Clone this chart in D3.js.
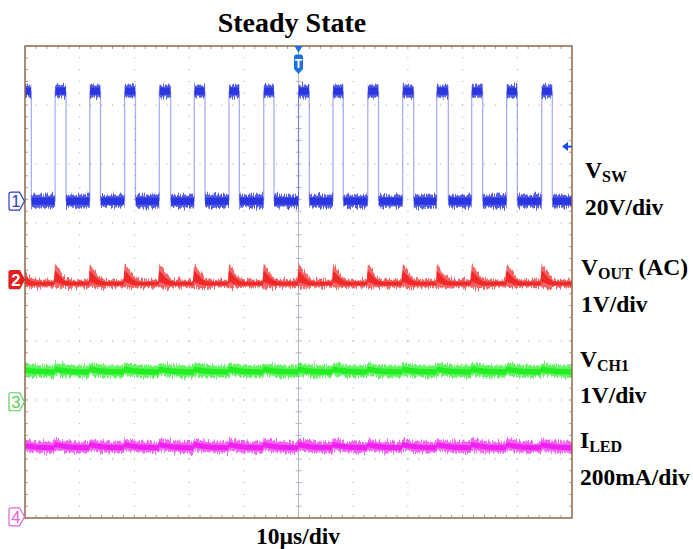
<!DOCTYPE html>
<html><head><meta charset="utf-8">
<script src="https://cdn.jsdelivr.net/npm/d3@7"></script>
<style>body{margin:0;background:#fff} svg{display:block}</style>
</head><body><svg id="c" width="693" height="549"></svg>
<script>
// ================= DATA =================
const timeDomain = [-50, 50];          // µs  (10 µs/div, 10 div)
const divDomain = [-4, 4];             // vertical divisions
const channelNames = ["1", "2", "3", "4"];
const channelOffsets = [1.37, 0.04, -2.03, -3.98];  // ground marker, in divisions
const channelPerDiv = [20, 1, 1, 200];               // V/div, V/div, V/div, mA/div
const channelColors = ["#2a35e0", "#f02828", "#22ee22", "#f020f0"];
const markerColors = ["#2a3ad0", "#e02020", "#55d055", "#e060e0"];

// V_SW switching edges (µs)
const swRise = [-50.86, -44.5, -38.15, -31.79, -25.45, -19.05, -12.7, -6.36, 0, 6.31, 12.67, 19.05, 25.27, 31.66, 38.06, 44.46];
const swFall = [-48.85, -42.5, -36.2, -29.8, -23.36, -17.09, -10.82, -4.48, 1.97, 8.19, 14.63, 21.06, 27.39, 33.67, 40.0, 46.4];
const swLevels = [0, 37.3];            // V low / high
const swBand = 2.2;                    // V half-width of the noisy trace

// ripple shape after every switching edge (dt in µs)
const rippleDt   = [0, 0.3, 0.8, 1.3, 2.0, 3.0, 6.15];
const voutUpper  = [0.27, 0.24, 0.17, 0.095, 0.025, 0.0, 0.0];     // V
const voutLower  = [-0.13, -0.14, -0.145, -0.145, -0.14, -0.135, -0.13];
const vch1Upper  = [0.66, 0.655, 0.645, 0.64, 0.63, 0.62, 0.61];  // V
const vch1Lower  = [0.45, 0.445, 0.44, 0.43, 0.425, 0.415, 0.41];
const iledUpper  = [265, 264, 262, 260, 258, 256, 254];            // mA
const iledLower  = [226, 225, 224, 222, 220, 218, 216];

const titleText = "Steady State";
const timeLabel = "10µs/div";
const sideLabels = [
  {main: "V", sub: "SW", tail: "", scale: "20V/div"},
  {main: "V", sub: "OUT", tail: " (AC)", scale: "1V/div"},
  {main: "V", sub: "CH1", tail: "", scale: "1V/div"},
  {main: "I", sub: "LED", tail: "", scale: "200mA/div"}
];

// ================= LAYOUT =================
const X0 = 25, X1 = 572, Y0 = 46, Y1 = 518;
const svg = d3.select("#c");
const x = d3.scaleLinear().domain(timeDomain).range([X0, X1]);
const yd = d3.scaleLinear().domain(divDomain).range([Y1, Y0]);
const chY = (ch, v) => yd(channelOffsets[ch] + v / channelPerDiv[ch]);
const serif = "'Liberation Serif','Times New Roman',serif";

const defs = svg.append("defs");
defs.append("clipPath").attr("id", "plot").append("rect")
  .attr("x", X0).attr("y", Y0).attr("width", X1 - X0).attr("height", Y1 - Y0);
const f = defs.append("filter").attr("id", "fuzz").attr("filterUnits", "userSpaceOnUse")
  .attr("x", 0).attr("y", 0).attr("width", 693).attr("height", 549);
f.append("feTurbulence").attr("type", "fractalNoise").attr("baseFrequency", "0.9 0.06")
  .attr("numOctaves", 2).attr("seed", 4).attr("result", "n");
f.append("feColorMatrix").attr("in", "n").attr("type", "matrix")
  .attr("values", "0 0 0 0 0.5  0 1.6 0 0 -0.3  0 0 1 0 0  0 0 0 0 1").attr("result", "m");
f.append("feDisplacementMap").attr("in", "SourceGraphic").attr("in2", "m")
  .attr("scale", 6).attr("xChannelSelector", "R").attr("yChannelSelector", "G");

// ================= GRID =================
const grid = svg.append("g");
const hDiv = (X1 - X0) / 10, vDiv = (Y1 - Y0) / 8;
const gridCol = "#a0a0a0";
d3.range(1, 10).filter(k => k !== 5).forEach(k => {
  const gx = X0 + k * hDiv;
  d3.range(1, 40).forEach(j => grid.append("rect").attr("x", gx - 0.5).attr("y", Y0 + j * vDiv / 5 - 0.5)
    .attr("width", 1).attr("height", 1).attr("fill", gridCol));
});
d3.range(1, 8).filter(k => k !== 4).forEach(k => {
  const gy = Y0 + k * vDiv;
  d3.range(1, 50).forEach(j => grid.append("rect").attr("x", X0 + j * hDiv / 5 - 0.5).attr("y", gy - 0.5)
    .attr("width", 1).attr("height", 1).attr("fill", gridCol));
});
const cx = X0 + 5 * hDiv, cy = Y0 + 4 * vDiv;
grid.append("line").attr("x1", cx).attr("x2", cx).attr("y1", Y0).attr("y2", Y1).attr("stroke", "#b4b6c4").attr("stroke-width", 1);
grid.append("line").attr("x1", X0).attr("x2", X1).attr("y1", cy).attr("y2", cy).attr("stroke", "#b4b6c4").attr("stroke-width", 1);
d3.range(1, 40).forEach(j => {
  const ty = Y0 + j * vDiv / 5;
  grid.append("line").attr("x1", cx - 3).attr("x2", cx + 3).attr("y1", ty).attr("y2", ty).attr("stroke", "#b4b6c4");
  grid.append("line").attr("x1", X0).attr("x2", X0 + 3).attr("y1", ty).attr("y2", ty).attr("stroke", gridCol);
  grid.append("line").attr("x1", X1 - 3).attr("x2", X1).attr("y1", ty).attr("y2", ty).attr("stroke", gridCol);
});
d3.range(1, 50).forEach(j => {
  const tx = X0 + j * hDiv / 5;
  grid.append("line").attr("x1", tx).attr("x2", tx).attr("y1", cy - 3).attr("y2", cy + 3).attr("stroke", "#b4b6c4");
  grid.append("line").attr("x1", tx).attr("x2", tx).attr("y1", Y0).attr("y2", Y0 + 3).attr("stroke", gridCol);
  grid.append("line").attr("x1", tx).attr("x2", tx).attr("y1", Y1 - 3).attr("y2", Y1).attr("stroke", gridCol);
});

// ================= TRACES =================
const traces = svg.append("g").attr("clip-path", "url(#plot)");

// --- CH1: V_SW ---
const sw = traces.append("g");
const highSeg = swRise.map((r, i) => [r, swFall[i]]);
const lowSeg = swFall.map((fa, i) => [fa, i + 1 < swRise.length ? swRise[i + 1] : timeDomain[1] + 5]);
function bandRects(g, segs, level, ch, col) {
  g.selectAll(null).data(segs).join("rect")
    .attr("x", d => x(d[0])).attr("width", d => x(d[1]) - x(d[0]))
    .attr("y", chY(ch, level + swBand)).attr("height", chY(ch, level - swBand) - chY(ch, level + swBand))
    .attr("fill", col);
}
const swFuzz = sw.append("g").attr("filter", "url(#fuzz)").attr("opacity", 0.8);
bandRects(swFuzz, highSeg, swLevels[1], 0, channelColors[0]);
bandRects(swFuzz, lowSeg, swLevels[0], 0, channelColors[0]);
const swCore = sw.append("g");
function coreRects(g, segs, level, ch, col, h) {
  g.selectAll(null).data(segs).join("rect")
    .attr("x", d => x(d[0]) + 0.5).attr("width", d => x(d[1]) - x(d[0]) - 1)
    .attr("y", chY(ch, level) - h / 2).attr("height", h).attr("fill", col);
}
coreRects(swCore, highSeg, swLevels[1], 0, channelColors[0], 7);
coreRects(swCore, lowSeg, swLevels[0], 0, channelColors[0], 7);
sw.selectAll(null).data(swRise.concat(swFall)).join("line")
  .attr("x1", d => x(d)).attr("x2", d => x(d))
  .attr("y1", chY(0, swLevels[0])).attr("y2", chY(0, swLevels[1]))
  .attr("stroke", channelColors[0]).attr("stroke-opacity", 0.4).attr("stroke-width", 1.3);

// --- ripple channels ---
function rippleSeries(upper, lower) {
  const pts = [];
  swRise.forEach(r => rippleDt.forEach((dt, i) => pts.push({t: r + dt, u: upper[i], l: lower[i]})));
  return pts;
}
function drawBand(ch, upper, lower) {
  const pts = rippleSeries(upper, lower);
  const g = traces.append("g");
  const area = d3.area().x(d => x(d.t)).y0(d => chY(ch, d.l)).y1(d => chY(ch, d.u)).curve(d3.curveLinear);
  g.append("path").datum(pts).attr("d", area).attr("fill", channelColors[ch])
    .attr("opacity", 0.7).attr("filter", "url(#fuzz)");
  const core = d3.area().x(d => x(d.t))
    .y0(d => chY(ch, d.l + (d.u - d.l) * 0.25)).y1(d => chY(ch, d.u - (d.u - d.l) * 0.3));
  g.append("path").datum(pts).attr("d", core).attr("fill", channelColors[ch]);
}
drawBand(1, voutUpper, voutLower);
drawBand(2, vch1Upper, vch1Lower);
drawBand(3, iledUpper, iledLower);

// ================= BORDER =================
svg.append("rect").attr("x", X0).attr("y", Y0).attr("width", X1 - X0).attr("height", Y1 - Y0)
  .attr("fill", "none").attr("stroke", "#8c6a48").attr("stroke-width", 1.5);

// ================= MARKERS =================
channelNames.forEach((name, ch) => {
  const my = chY(ch, 0), h = 18, xl = 9, xr = 24.5;
  const path = `M${xl + 2},${my - h / 2} L${xr - 5},${my - h / 2} L${xr},${my} L${xr - 5},${my + h / 2} L${xl + 2},${my + h / 2} Q${xl},${my + h / 2} ${xl},${my + h / 2 - 2} L${xl},${my - h / 2 + 2} Q${xl},${my - h / 2} ${xl + 2},${my - h / 2} Z`;
  const filled = ch === 1;
  svg.append("path").attr("d", path).attr("fill", filled ? markerColors[ch] : "#fff")
    .attr("stroke", markerColors[ch]).attr("stroke-width", 1.2);
  svg.append("text").attr("x", xl + 6.8).attr("y", my + 6).attr("text-anchor", "middle")
    .attr("font-family", "'Liberation Sans',Arial,sans-serif").attr("font-size", 16.5)
    .attr("font-weight", filled ? "bold" : "normal")
    .attr("fill", filled ? "#fff" : markerColors[ch]).text(name);
});

// trigger position marker
const tx = x(0);
svg.append("path").attr("d", `M${tx - 4},${Y0} L${tx + 4},${Y0} L${tx},${Y0 + 7} Z`).attr("fill", "#1a72e0");
svg.append("path").attr("d", `M${tx - 4.5},${57} Q${tx - 4.5},${54.5} ${tx - 2},${54.5} L${tx + 2},${54.5} Q${tx + 4.5},${54.5} ${tx + 4.5},${57} L${tx + 4.5},${69} L${tx},${74} L${tx - 4.5},${69} Z`)
  .attr("fill", "#1a72e0");
svg.append("text").attr("x", tx).attr("y", 68).attr("text-anchor", "middle")
  .attr("font-family", "'Liberation Sans',Arial,sans-serif").attr("font-size", 12).attr("font-weight", "bold")
  .attr("fill", "#fff").text("T");
// trigger level arrow
const ty = chY(0, 18.5);
svg.append("path").attr("d", `M${X1 - 10},${ty} L${X1 - 4},${ty - 4.5} L${X1 - 4},${ty + 4.5} Z`).attr("fill", "#1a4ce0");
svg.append("line").attr("x1", X1 - 5).attr("x2", X1).attr("y1", ty).attr("y2", ty).attr("stroke", "#1a4ce0").attr("stroke-width", 2);

// ================= TEXT =================
svg.append("text").attr("x", 292).attr("y", 32).attr("text-anchor", "middle")
  .attr("font-family", serif).attr("font-weight", "bold").attr("font-size", 28).text(titleText);
svg.append("text").attr("x", 298).attr("y", 544).attr("text-anchor", "middle")
  .attr("font-family", serif).attr("font-weight", "bold").attr("font-size", 23.5).text(timeLabel);

const labelPos = [{x: 585, y1: 178, y2: 215}, {x: 581, y1: 275, y2: 312}, {x: 580, y1: 367, y2: 403}, {x: 580, y1: 448, y2: 485}];
sideLabels.forEach((lab, i) => {
  const p = labelPos[i];
  const t = svg.append("text").attr("x", p.x).attr("y", p.y1)
    .attr("font-family", serif).attr("font-weight", "bold").attr("font-size", 23.5);
  t.append("tspan").text(lab.main);
  t.append("tspan").attr("font-size", 16).attr("dy", 4).text(lab.sub);
  if (lab.tail) t.append("tspan").attr("dy", -4).text(lab.tail);
  svg.append("text").attr("x", p.x).attr("y", p.y2)
    .attr("font-family", serif).attr("font-weight", "bold").attr("font-size", 23.5).text(lab.scale);
});
</script></body></html>
